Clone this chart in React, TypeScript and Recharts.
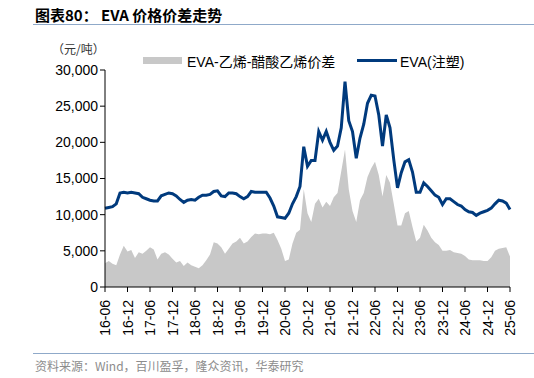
import React from "react";
import { ComposedChart, Area, Line, XAxis, YAxis } from "recharts";

// monthly, 2016-06 .. 2025-06
const months: string[] = [];
for (let i = 0; i <= 108; i++) {
  const m = 5 + i;
  const yy = 16 + Math.floor(m / 12);
  const mm = (m % 12) + 1;
  months.push(`${yy}-${String(mm).padStart(2, "0")}`);
}

// EVA(注塑), 元/吨
const evaPrice = [
  10900, 11000, 11100, 11500, 13000, 13100, 13000, 13100, 13000, 12900,
  12400, 12200, 12000, 11900, 11900, 12600, 12800, 13000, 12900, 12600,
  12100, 11700, 12000, 12100, 12000, 12400, 12700, 12700, 12800, 13200,
  13300, 12600, 12500, 13000, 13000, 12900, 12500, 12200, 12500, 13200,
  13100, 13100, 13100, 13100, 12300, 11200, 9700, 9600, 9500, 10200,
  11500, 12500, 13900, 19400, 16700, 17500, 17500, 21500, 20300, 21500,
  20000, 18900, 19500, 22000, 28400, 23000, 21500, 17800, 20600, 22500,
  25400, 26500, 26400, 23800, 19500, 23800, 22000, 17600, 13700, 15800,
  17300, 17600, 15900, 13100, 13100, 14400, 13900, 13300, 12700, 12400,
  11400, 12200, 12200, 11800, 11400, 11200, 10700, 10400, 10300, 9900,
  10200, 10400, 10600, 10900, 11500, 12000, 11900, 11600, 10700,
];

// EVA-乙烯-醋酸乙烯价差, 元/吨
const evaSpread = [
  3300, 3600, 3200, 3000, 4500, 5700, 4900, 5100, 4000, 4800,
  4600, 5000, 5500, 5200, 3800, 4600, 4800, 4500, 3900, 3400,
  3600, 2900, 3400, 3000, 2800, 2600, 3000, 3700, 4500, 6200,
  6000, 5500, 4600, 5300, 6000, 6300, 6800, 6000, 6300, 6900,
  7400, 7300, 7400, 7400, 7300, 7500, 6500, 5300, 3600, 3800,
  6000, 7500, 7900, 13500, 10200, 9000, 11500, 12200, 11000, 11800,
  11200, 12400, 13000, 16000, 19000, 13500, 10500, 9000, 12000, 13000,
  15200, 16400, 17300, 15500, 12500, 15500, 14400, 11500, 8500, 8500,
  10200, 10500, 8300, 6300, 6800, 8600, 7800, 6800, 6200, 5800,
  5000, 5000, 5100, 4800, 4700, 4600, 4300, 3800, 3700, 3700,
  3700, 3600, 3600, 4100, 5000, 5300, 5400, 5500, 4200,
];

const yTicks = [0, 5000, 10000, 15000, 20000, 25000, 30000];

const data = months.map((d, i) => ({ d, eva: evaPrice[i], spread: evaSpread[i] }));

const FONT = '"Liberation Sans", Arial, "Noto Sans CJK SC", sans-serif';
const CJK = '"Noto Sans CJK SC", "Liberation Sans", sans-serif';

function RotatedTick({ x, y, payload }: any) {
  return (
    <text
      x={x}
      y={y + 6}
      transform={`rotate(-90, ${x}, ${y + 6})`}
      textAnchor="end"
      dominantBaseline="central"
      fontSize={14}
      fontFamily={FONT}
      fill="#000"
    >
      {payload.value}
    </text>
  );
}

export default function App() {
  return (
    <div style={{ position: "absolute", left: 0, top: 0, width: 534, height: 378, background: "#fff", fontFamily: CJK }}>
      <div style={{ position: "absolute", left: 35, top: 4, fontSize: 15, fontWeight: 700, color: "#000", whiteSpace: "nowrap" }}>
        图表80：&nbsp;EVA 价格价差走势
      </div>
      <div style={{ position: "absolute", left: 33, top: 24, width: 501, height: 1, background: "#8FA9C9" }} />

      <div style={{ position: "absolute", left: 52, top: 40, fontSize: 12, color: "#333", whiteSpace: "nowrap" }}>
        （元/吨）
      </div>

      {/* legend */}
      <div style={{ position: "absolute", left: 143, top: 57, width: 39, height: 7, background: "#C8C8C8" }} />
      <div style={{ position: "absolute", left: 187, top: 51, fontSize: 14, color: "#000", whiteSpace: "nowrap", fontFamily: FONT }}>
        EVA-乙烯-醋酸乙烯价差
      </div>
      <div style={{ position: "absolute", left: 357, top: 59, width: 40, height: 3, background: "#003A7D" }} />
      <div style={{ position: "absolute", left: 400, top: 51, fontSize: 14, color: "#000", whiteSpace: "nowrap", fontFamily: FONT }}>
        EVA(注塑)
      </div>

      <div style={{ position: "absolute", left: 0, top: 0 }}>
        <ComposedChart width={534} height={378} data={data} margin={{ top: 70, right: 24, bottom: 0, left: 0 }}>
          <XAxis
            dataKey="d"
            scale="point"
            interval={5}
            tick={<RotatedTick />}
            tickSize={5}
            stroke="#000"
            axisLine={{ stroke: "#000" }}
            tickLine={{ stroke: "#000" }}
            height={91}
          />
          <YAxis
            domain={[0, 30000]}
            ticks={yTicks}
            width={105}
            tickSize={5}
            stroke="#000"
            tick={{ fontSize: 14, fontFamily: FONT, fill: "#000" }}
            tickFormatter={(v) => v.toLocaleString("en-US")}
            interval={0}
          />
          <Area
            type="linear"
            dataKey="spread"
            stroke="none"
            fill="#C8C8C8"
            fillOpacity={1}
            isAnimationActive={false}
          />
          <Line
            type="linear"
            dataKey="eva"
            stroke="#003A7D"
            strokeWidth={3}
            dot={false}
            isAnimationActive={false}
          />
        </ComposedChart>
      </div>

      <div style={{ position: "absolute", left: 33, top: 353, width: 501, height: 1, background: "#8FA9C9" }} />
      <div style={{ position: "absolute", left: 35, top: 357, fontSize: 12, color: "#8C8C8C", whiteSpace: "nowrap" }}>
        资料来源：Wind，百川盈孚，隆众资讯，华泰研究
      </div>
    </div>
  );
}
